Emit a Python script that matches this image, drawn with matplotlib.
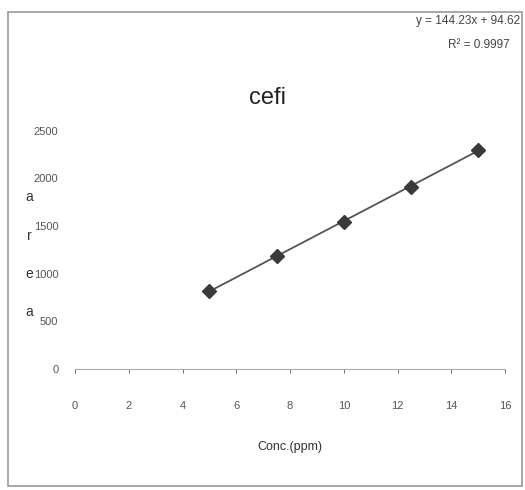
import numpy as np
import matplotlib
matplotlib.use("Agg")
import matplotlib.pyplot as plt
from matplotlib.patches import Rectangle

conc = [5, 7.5, 10, 12.5, 15]
area = [820, 1185, 1545, 1915, 2300]
x_ticks = [0, 2, 4, 6, 8, 10, 12, 14, 16]
y_ticks = [0, 500, 1000, 1500, 2000, 2500]
title = "cefi"
xlabel = "Conc.(ppm)"
ylabel_letters = ["a", "r", "e", "a"]
eq_text = "y = 144.23x + 94.62"
r2_text = "R² = 0.9997"

plt.rcParams['font.family'] = ['Liberation Sans', 'DejaVu Sans']

fig = plt.figure(figsize=(5.25, 4.9), dpi=100)
fig.patch.set_facecolor("white")
fig.add_artist(Rectangle((8/525, 1 - 486/490), 514/525, (486-12)/490,
                         transform=fig.transFigure, fill=False,
                         edgecolor="#9a9a9a", linewidth=1.2))

ax = fig.add_axes([0.143, 0.247, 0.819, 0.486])
ax.set_xlim(0, 16)
ax.set_ylim(0, 2500)
ax.set_xticks(x_ticks)
ax.set_yticks(y_ticks)
ax.tick_params(axis='both', colors="#555555", labelsize=8, length=3, width=0.6)
ax.tick_params(axis='y', length=0, pad=12)
ax.tick_params(axis='x', pad=20)
for s in ["top", "right", "left"]:
    ax.spines[s].set_visible(False)
ax.spines["bottom"].set_color("#aaaaaa")
ax.spines["bottom"].set_linewidth(0.8)

coef = np.polyfit(conc, area, 1)
xs = np.array([conc[0], conc[-1]])
ax.plot(xs, np.polyval(coef, xs), color="#555555", linewidth=1.3, zorder=2)
ax.plot(conc, area, linestyle="none", marker="D", markersize=7,
        color="#3a3a3a", markeredgecolor="#3a3a3a", zorder=3)

fig.text(268/525, 1 - 98/490, title, fontsize=17, ha="center", va="center", color="#222222")
fig.text(290/525, 1 - 447/490, xlabel, fontsize=9, ha="center", va="center", color="#333333")
for i, ch in enumerate(ylabel_letters):
    fig.text(29/525, 1 - (197 + 38.5*i)/490, ch, fontsize=10, ha="center", va="center", color="#333333")
fig.text(520/525, 1 - 21/490, eq_text, fontsize=8.5, ha="right", va="center", color="#444444")
fig.text(510/525, 1 - 45/490, r2_text, fontsize=8.5, ha="right", va="center", color="#444444")

fig.savefig("out.png", dpi=100, facecolor="white")
